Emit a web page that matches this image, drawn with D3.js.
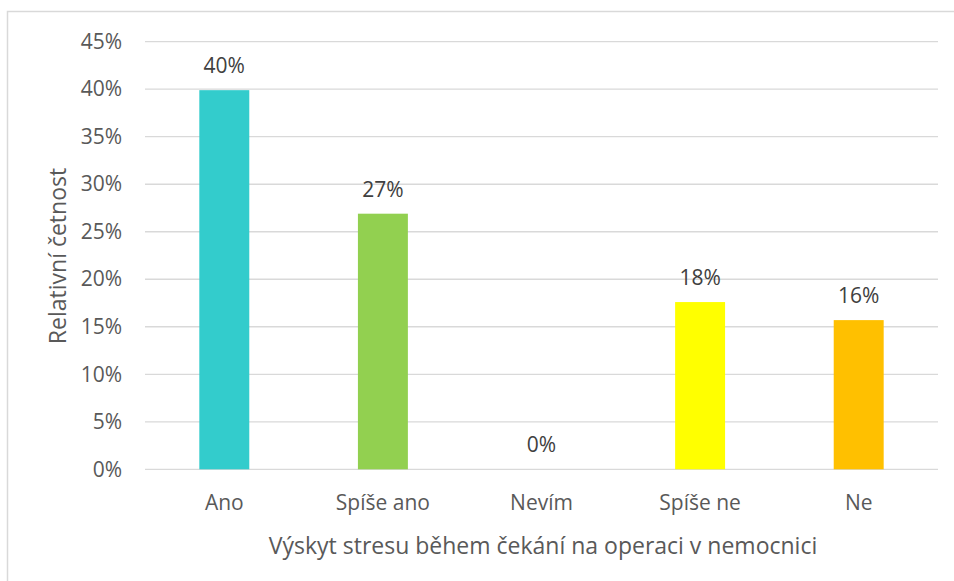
<!DOCTYPE html>
<html>
<head>
<meta charset="utf-8">
<script src="https://cdn.jsdelivr.net/npm/d3@7"></script>
<style>
body { margin: 0; background: #fff; }
text { font-family: "Open Sans", "Noto Sans", sans-serif; }
</style>
</head>
<body>
<script>
var categories = ["Ano", "Spíše ano", "Nevím", "Spíše ne", "Ne"];
var values = [0.399, 0.269, 0, 0.176, 0.157];
var labels = ["40%", "27%", "0%", "18%", "16%"];
var colors = ["#33CCCC", "#92D050", "#7F7F7F", "#FFFF00", "#FFC000"];
var ticks = [0, 0.05, 0.10, 0.15, 0.20, 0.25, 0.30, 0.35, 0.40, 0.45];

var width = 954, height = 581;

var svg = d3.select("body").append("svg")
	.attr("width", width)
	.attr("height", height);

// chart border (only top and left are visible)
svg.append("rect")
	.attr("x", 7.5).attr("y", 11.5)
	.attr("width", 1000).attr("height", 1000)
	.attr("fill", "none")
	.attr("stroke", "#d9d9d9")
	.attr("stroke-width", 1.5);

var x = d3.scaleBand()
	.domain(categories)
	.range([145, 938])
	.paddingInner(0.685)
	.paddingOuter(0.3425);

var y = d3.scaleLinear()
	.domain([0, 0.45])
	.range([469.3, 41.7]);

// gridlines
svg.append("g").selectAll("line").data(ticks).enter()
	.append("line")
	.attr("x1", 145).attr("x2", 938)
	.attr("y1", (d) => y(d)).attr("y2", (d) => y(d))
	.attr("stroke", "#d9d9d9")
	.attr("stroke-width", 1.3);

var leftAxis = d3.axisLeft(y).tickValues(ticks)
	.tickSize(0).tickPadding(0)
	.tickFormat((d) => Math.round(d * 100) + "%");

var ga = svg.append("g")
	.attr("transform", "translate(122,0)")
	.call(leftAxis);
ga.select(".domain").remove();
ga.selectAll("text")
	.attr("font-size", "21px")
	.attr("font-family", "Open Sans")
	.attr("fill", "#595959");

// bars
svg.append("g").selectAll("rect").data(values).enter()
	.append("rect")
	.attr("x", (d, i) => x(categories[i]))
	.attr("y", (d) => y(d))
	.attr("width", x.bandwidth())
	.attr("height", (d) => y(0) - y(d))
	.attr("fill", (d, i) => colors[i]);

// data labels
svg.append("g").selectAll("text").data(values).enter()
	.append("text")
	.attr("x", (d, i) => x(categories[i]) + x.bandwidth() / 2)
	.attr("y", (d) => y(d) - 17)
	.attr("text-anchor", "middle")
	.attr("font-size", "21px")
	.attr("fill", "#404040")
	.text((d, i) => labels[i]);

var bottomAxis = d3.axisBottom(x).tickSize(0).tickPadding(0);
var gb = svg.append("g")
	.attr("transform", "translate(0,495)")
	.call(bottomAxis);
gb.select(".domain").remove();
gb.selectAll("text")
	.attr("font-size", "21px")
	.attr("font-family", "Open Sans")
	.attr("fill", "#595959");

svg.append("text")
	.attr("x", 543)
	.attr("y", 554)
	.attr("text-anchor", "middle")
	.attr("font-size", "23px")
	.attr("fill", "#595959")
	.text("Výskyt stresu během čekání na operaci v nemocnici");

svg.append("text")
	.attr("transform", "translate(66,256) rotate(-90)")
	.attr("text-anchor", "middle")
	.attr("font-size", "23px")
	.attr("fill", "#595959")
	.text("Relativní četnost");
</script>
</body>
</html>
